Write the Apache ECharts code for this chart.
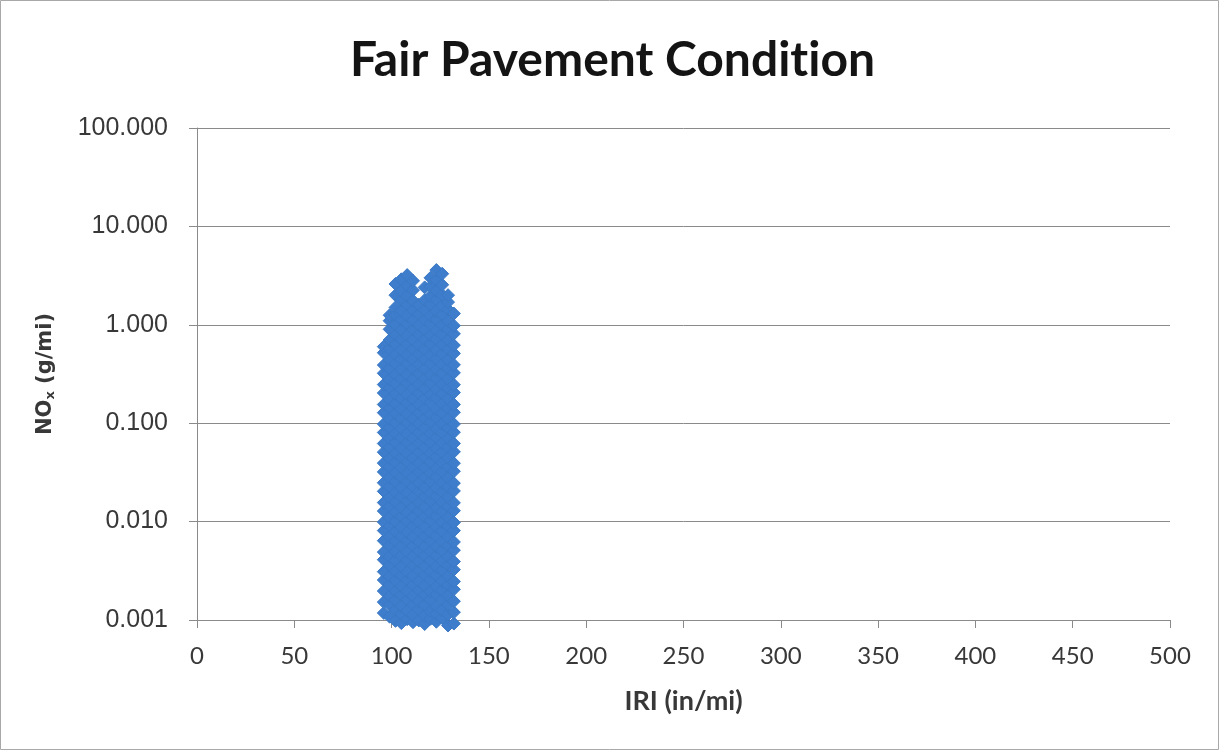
<!DOCTYPE html>
<html>
<head>
<meta charset="utf-8">
<title>Fair Pavement Condition</title>
<script src="https://cdn.jsdelivr.net/npm/echarts@6/dist/echarts.min.js"></script>
<style>
  html, body { margin: 0; padding: 0; background: #ffffff; }
  #chart { width: 1225px; height: 751px; }
</style>
</head>
<body>
<div id="chart"></div>
<script>
// Chart labels (a zero-width non-joiner keeps "ti" from forming a ligature)
const chartTitle = 'Fair Pavement Condit\u200Cion';
const xAxisTitle = 'IRI (in/mi)';
const yTickValues = [0.001, 0.01, 0.1, 1, 10, 100];
const xTickValues = [0, 50, 100, 150, 200, 250, 300, 350, 400, 450, 500];

// IRI (in/mi) of each column of observations
const iriColumns = [96, 99, 102, 105, 108, 111, 114, 117, 120, 123, 126, 129, 132];

// NOx (g/mi) observed in each IRI column, bottom to top
const nox096 = [0.00118, 0.00152, 0.00197, 0.00255, 0.0031, 0.0041, 0.0049, 0.0064, 0.0081, 0.0099, 0.0128, 0.0156, 0.0203, 0.0248, 0.032, 0.0393, 0.0508, 0.0622, 0.0805, 0.098, 0.128, 0.155, 0.203, 0.247, 0.322, 0.39, 0.52, 0.6];
const nox099 = [0.00108, 0.00143, 0.00175, 0.00228, 0.00278, 0.0036, 0.0044, 0.0057, 0.007, 0.009, 0.011, 0.0143, 0.0176, 0.0227, 0.028, 0.036, 0.044, 0.057, 0.07, 0.09, 0.11, 0.143, 0.175, 0.228, 0.278, 0.36, 0.44, 0.57, 0.7, 0.9, 1.1, 1.25];
const nox102 = [0.00098, 0.00127, 0.0016, 0.00197, 0.00253, 0.00312, 0.00402, 0.00495, 0.00636, 0.00787, 0.0101, 0.0125, 0.0159, 0.0198, 0.0253, 0.0313, 0.0401, 0.0497, 0.0635, 0.0788, 0.101, 0.125, 0.159, 0.198, 0.253, 0.313, 0.402, 0.497, 0.636, 0.788, 1.01, 1.26, 1.5, 2.0, 2.6];
const nox105 = [0.00093, 0.00115, 0.00139, 0.0018, 0.00221, 0.00285, 0.0035, 0.0045, 0.0056, 0.0071, 0.0088, 0.0113, 0.0139, 0.0179, 0.0221, 0.0284, 0.0352, 0.0451, 0.0558, 0.0712, 0.0885, 0.113, 0.139, 0.179, 0.221, 0.284, 0.352, 0.451, 0.558, 0.712, 0.885, 1.13, 1.39, 1.79, 2.2, 2.9];
const nox108 = [0.00102, 0.00124, 0.00161, 0.00196, 0.00256, 0.00309, 0.00407, 0.00491, 0.00642, 0.0078, 0.0102, 0.0124, 0.0161, 0.0196, 0.0256, 0.0309, 0.0407, 0.0491, 0.0642, 0.078, 0.102, 0.124, 0.161, 0.196, 0.256, 0.309, 0.407, 0.491, 0.642, 0.78, 1.02, 1.24, 1.61, 1.96, 2.5, 3.2];
const nox111 = [0.00095, 0.00113, 0.00144, 0.00176, 0.00226, 0.0028, 0.00358, 0.00443, 0.00567, 0.00702, 0.00898, 0.0111, 0.0142, 0.0176, 0.0226, 0.0281, 0.0357, 0.0444, 0.0566, 0.0703, 0.0897, 0.111, 0.142, 0.176, 0.226, 0.281, 0.357, 0.444, 0.566, 0.703, 0.897, 1.11, 1.42, 1.76, 2.25, 2.8];
const nox114 = [0.00099, 0.00128, 0.00156, 0.00203, 0.00248, 0.0032, 0.00394, 0.00507, 0.00624, 0.00802, 0.0099, 0.0128, 0.0156, 0.0203, 0.0248, 0.032, 0.0394, 0.0507, 0.0624, 0.0802, 0.099, 0.128, 0.156, 0.203, 0.248, 0.32, 0.394, 0.507, 0.624, 0.802, 0.99, 1.28, 1.6];
const nox117 = [0.00091, 0.00111, 0.00142, 0.00181, 0.00223, 0.00286, 0.00353, 0.00449, 0.0056, 0.0071, 0.0089, 0.0112, 0.0141, 0.0178, 0.0223, 0.0283, 0.0355, 0.0447, 0.0562, 0.0708, 0.0891, 0.112, 0.141, 0.178, 0.224, 0.282, 0.355, 0.447, 0.562, 0.708, 0.891, 1.12, 1.41, 1.78, 2.4];
const nox120 = [0.00103, 0.00123, 0.00162, 0.00195, 0.00257, 0.00311, 0.00405, 0.00494, 0.0064, 0.0078, 0.0103, 0.0123, 0.0162, 0.0195, 0.0257, 0.0311, 0.0405, 0.0494, 0.064, 0.078, 0.103, 0.123, 0.162, 0.195, 0.257, 0.311, 0.405, 0.494, 0.64, 0.78, 1.03, 1.23, 1.62, 1.95, 2.45, 3.0];
const nox123 = [0.00096, 0.00116, 0.00138, 0.00182, 0.0022, 0.00287, 0.00349, 0.00454, 0.00555, 0.00716, 0.00878, 0.0114, 0.0138, 0.0182, 0.022, 0.0287, 0.0349, 0.0454, 0.0555, 0.0716, 0.0878, 0.114, 0.138, 0.182, 0.22, 0.287, 0.349, 0.454, 0.555, 0.716, 0.878, 1.14, 1.38, 1.82, 2.2, 2.85, 3.6];
const nox126 = [0.00105, 0.00127, 0.00163, 0.00201, 0.00249, 0.00322, 0.00396, 0.00509, 0.00628, 0.00805, 0.0099, 0.0127, 0.0157, 0.0201, 0.0249, 0.0322, 0.0396, 0.0509, 0.0628, 0.0805, 0.099, 0.127, 0.157, 0.201, 0.249, 0.322, 0.396, 0.509, 0.628, 0.805, 0.99, 1.27, 1.57, 2.01, 2.55, 3.3];
const nox129 = [0.00088, 0.00114, 0.00143, 0.00177, 0.00227, 0.00279, 0.0036, 0.00441, 0.0057, 0.00699, 0.009, 0.011, 0.0143, 0.0177, 0.0227, 0.0279, 0.036, 0.0441, 0.057, 0.0699, 0.09, 0.11, 0.143, 0.177, 0.227, 0.279, 0.36, 0.441, 0.57, 0.699, 0.9, 1.1, 1.43, 1.7, 2.0];
const nox132 = [0.00092, 0.0012, 0.00155, 0.00205, 0.00246, 0.00325, 0.00392, 0.00512, 0.00621, 0.0081, 0.0098, 0.0129, 0.0155, 0.0205, 0.0246, 0.0325, 0.0392, 0.0512, 0.0621, 0.081, 0.098, 0.129, 0.155, 0.205, 0.246, 0.325, 0.392, 0.512, 0.621, 0.81, 0.98, 1.3];

const noxColumns = [nox096, nox099, nox102, nox105, nox108, nox111, nox114, nox117, nox120, nox123, nox126, nox129, nox132];

// Assemble [IRI, NOx] pairs for the scatter series
const observations = [];
iriColumns.forEach(function (iri, i) {
  noxColumns[i].forEach(function (nox) {
    observations.push([iri, nox]);
  });
});

const gridColor = '#8a8a8a';
const labelColor = '#383838';

const chart = echarts.init(document.getElementById('chart'), null, { renderer: 'canvas' });

chart.setOption({
  animation: false,
  backgroundColor: '#ffffff',
  title: {
    text: chartTitle,
    left: 'center',
    top: 32,
    textStyle: {
      fontFamily: 'Lato',
      fontWeight: 'bold',
      fontSize: 48,
      color: '#141414'
    }
  },
  graphic: [{
    type: 'rect',
    shape: { x: 0.5, y: 0.5, width: 1218, height: 749 },
    style: { fill: 'none', stroke: '#a8a8a8', lineWidth: 1 },
    silent: true
  }],
  grid: {
    left: 197,
    right: 55,
    top: 128,
    bottom: 131,
    containLabel: false
  },
  xAxis: {
    type: 'value',
    min: xTickValues[0],
    max: xTickValues[xTickValues.length - 1],
    interval: 50,
    name: xAxisTitle,
    nameLocation: 'middle',
    nameGap: 68,
    nameTextStyle: {
      fontFamily: 'Lato',
      fontWeight: 'bold',
      fontSize: 27,
      color: labelColor
    },
    axisLine: { show: true, lineStyle: { color: gridColor, width: 1 } },
    axisTick: { show: true, inside: false, length: 8, lineStyle: { color: gridColor } },
    splitLine: { show: false },
    axisLabel: {
      margin: 24,
      fontFamily: 'Lato',
      fontSize: 24,
      color: labelColor
    }
  },
  yAxis: {
    type: 'log',
    logBase: 10,
    min: yTickValues[0],
    max: yTickValues[yTickValues.length - 1],
    name: '{b|NO}{s|x}{b| (g/mi)}',
    nameLocation: 'middle',
    nameGap: 140,
    nameRotate: 90,
    nameTextStyle: {
      rich: {
        b: { fontFamily: 'DejaVu Sans', fontWeight: 'bold', fontSize: 21, color: labelColor },
        s: { fontFamily: 'DejaVu Sans', fontWeight: 'bold', fontSize: 13, color: labelColor, padding: [10, 0, 0, 0] }
      }
    },
    axisLine: { show: true, lineStyle: { color: gridColor, width: 1 } },
    axisTick: { show: true, inside: false, length: 8, lineStyle: { color: gridColor } },
    splitLine: { show: true, lineStyle: { color: gridColor, width: 1 } },
    axisLabel: {
      margin: 29,
      fontFamily: 'Liberation Sans',
      fontSize: 25,
      color: labelColor,
      formatter: function (v) { return Number(v).toFixed(3); }
    }
  },
  series: [{
    type: 'scatter',
    name: 'NOx',
    data: observations,
    symbol: 'diamond',
    symbolSize: 13,
    clip: false,
    itemStyle: {
      color: '#3d7dcb',
      borderColor: '#3b79c5',
      borderWidth: 1,
      opacity: 1
    }
  }]
});
</script>
</body>
</html>
